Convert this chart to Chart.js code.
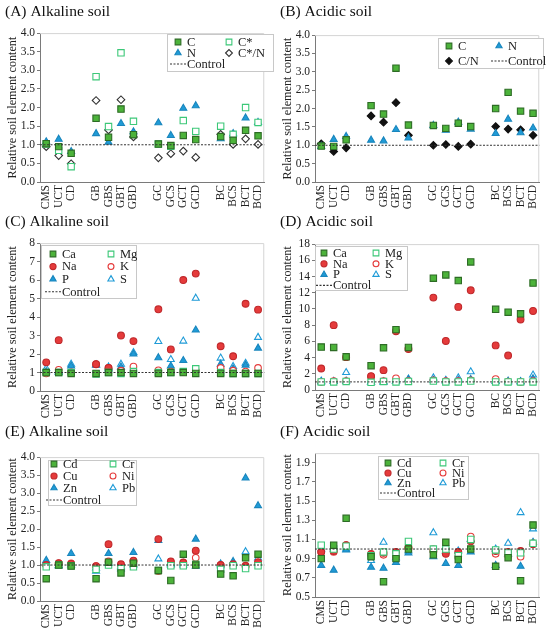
<!DOCTYPE html>
<html>
<head>
<meta charset="utf-8">
<script src="https://cdn.jsdelivr.net/npm/chart.js@4.4.0/dist/chart.umd.min.js"></script>
<style>
  body { margin: 0; background: #fff; }
  #grid { display: grid; grid-template-columns: 275px 275px; grid-template-rows: 210px 210px 210px; width: 550px; height: 630px; }
  .cell { position: relative; width: 275px; height: 210px; }
</style>
</head>
<body>
<div id="grid">
  <div class="cell"><canvas id="chartA"></canvas></div>
  <div class="cell"><canvas id="chartB"></canvas></div>
  <div class="cell"><canvas id="chartC"></canvas></div>
  <div class="cell"><canvas id="chartD"></canvas></div>
  <div class="cell"><canvas id="chartE"></canvas></div>
  <div class="cell"><canvas id="chartF"></canvas></div>
</div>
<script>
  const treatments = ['CMS', 'UCT', 'CD', 'GB', 'GBS', 'GBT', 'GBD', 'GC', 'GCS', 'GCT', 'GCD', 'BC', 'BCS', 'BCT', 'BCD'];
  const groupSizes = [3, 4, 4, 4];
  const controlValue = 1;

  // (A) Alkaline soil - C, N
  const aC   = [1.03, 0.95, 0.77, 1.71, 1.20, 1.96, 1.27, 1.02, 0.98, 1.25, 1.14, 1.22, 1.12, 1.39, 1.24];
  const aCs  = [1.02, 0.85, 0.41, 2.83, 1.49, 3.47, 1.63, 1.02, 0.96, 1.65, 1.36, 1.50, 1.28, 2.00, 1.60];
  const aN   = [1.08, 1.15, 0.82, 1.30, 1.07, 1.57, 1.35, 1.59, 1.25, 1.98, 2.05, 1.16, 1.30, 1.72, 1.60];
  const aCsN = [0.95, 0.71, 0.49, 2.19, 1.40, 2.21, 1.21, 0.65, 0.76, 0.83, 0.66, 1.28, 1.01, 1.16, 1.01];

  // (B) Acidic soil - C, N
  const bC  = [0.98, 0.97, 1.15, 2.08, 1.85, 3.10, 1.55, 1.54, 1.46, 1.60, 1.51, 2.00, 2.44, 1.93, 1.87];
  const bN  = [0.97, 1.16, 1.24, 1.14, 1.12, 1.43, 1.20, 1.54, 1.41, 1.63, 1.44, 1.32, 1.71, 1.34, 1.47];
  const bCN = [1.04, 0.83, 0.93, 1.80, 1.63, 2.16, 1.27, 1.00, 1.02, 0.97, 1.03, 1.51, 1.44, 1.42, 1.27];

  // (C) Alkaline soil - macro elements
  const cCa = [1.00, 1.00, 0.95, 0.95, 1.00, 1.00, 0.95, 0.95, 1.00, 1.00, 0.95, 0.95, 0.95, 0.95, 0.95];
  const cMg = [1.00, 1.00, 1.00, 0.92, 1.00, 0.95, 1.05, 1.00, 1.00, 1.05, 1.20, 1.00, 0.95, 0.95, 0.95];
  const cNa = [1.55, 2.75, 1.00, 1.45, 1.25, 3.00, 2.70, 4.42, 2.25, 6.00, 6.35, 2.42, 1.88, 4.72, 4.40];
  const cK  = [0.95, 1.15, 0.98, 1.45, 1.25, 1.10, 1.32, 1.12, 1.05, 1.02, 1.10, 1.25, 1.10, 1.05, 1.25];
  const cP  = [1.05, 1.00, 1.35, 1.40, 1.20, 1.30, 2.00, 1.80, 1.35, 1.65, 3.30, 1.45, 1.20, 1.40, 2.32];
  const cS  = [1.22, 1.05, 1.45, 1.42, 1.30, 1.45, 2.08, 2.68, 1.70, 2.70, 5.02, 1.78, 1.33, 1.50, 2.90];

  // (D) Acidic soil - macro elements
  const dCa = [5.30, 5.25, 4.10, 3.00, 5.20, 7.45, 5.25, 13.80, 14.20, 13.50, 15.80, 9.95, 9.60, 9.40, 13.20];
  const dMg = [1.00, 1.00, 1.05, 0.95, 1.05, 1.00, 1.05, 1.10, 1.00, 1.00, 1.10, 1.00, 1.00, 1.00, 1.00];
  const dNa = [2.65, 8.00, 4.05, 1.70, 2.45, 7.25, 5.05, 11.40, 6.05, 10.25, 12.30, 5.50, 4.25, 8.70, 9.75];
  const dK  = [1.00, 1.10, 1.10, 1.65, 1.10, 1.45, 1.10, 1.20, 1.10, 1.10, 1.20, 1.35, 1.05, 1.00, 1.10];
  const dP  = [1.00, 1.05, 1.10, 1.00, 1.00, 1.10, 1.30, 1.20, 1.10, 1.20, 1.30, 1.10, 1.00, 1.00, 1.40];
  const dS  = [1.10, 1.05, 2.15, 1.00, 1.00, 1.10, 1.35, 1.50, 1.20, 1.50, 2.25, 1.10, 1.10, 1.05, 1.85];

  // (E) Alkaline soil - heavy metals
  const eCd = [0.62, 1.00, 0.97, 0.62, 1.08, 0.78, 1.05, 0.85, 0.57, 1.30, 1.00, 0.75, 0.70, 1.20, 1.30];
  const eCr = [0.95, 1.00, 0.98, 0.88, 1.00, 0.90, 0.95, 0.85, 0.98, 0.98, 1.02, 0.88, 0.98, 0.90, 0.98];
  const eCu = [1.00, 1.05, 1.03, 0.97, 1.58, 1.02, 1.12, 1.72, 1.10, 1.07, 1.40, 1.00, 1.02, 0.98, 1.08];
  const eNi = [1.00, 1.05, 1.05, 0.97, 1.10, 1.00, 1.10, 0.83, 1.08, 1.05, 1.20, 1.00, 1.00, 0.95, 1.05];
  const eZn = [1.13, 0.98, 1.32, 0.92, 1.32, 0.95, 1.35, 1.68, 1.00, 1.05, 1.72, 1.03, 1.10, 3.42, 2.65];
  const ePb = [1.05, 0.98, 1.00, 0.83, 1.05, 0.90, 1.00, 1.17, 1.02, 1.00, 0.97, 0.98, 1.05, 1.37, 1.20];

  // (F) Acidic soil - heavy metals
  const fCd = [0.90, 1.04, 1.32, 0.92, 0.66, 0.90, 1.00, 0.94, 1.07, 0.89, 1.00, 0.82, 0.91, 0.67, 1.25];
  const fCr = [1.04, 1.00, 1.03, 0.93, 0.97, 0.95, 1.08, 1.00, 1.00, 0.93, 1.10, 0.99, 0.96, 0.96, 1.06];
  const fCu = [0.97, 0.98, 1.04, 0.95, 0.96, 0.97, 1.01, 0.98, 0.95, 0.97, 1.08, 0.98, 0.97, 0.98, 1.05];
  const fNi = [0.97, 0.97, 1.04, 0.94, 0.94, 0.92, 1.01, 1.00, 1.00, 0.92, 1.13, 0.95, 0.93, 0.92, 1.06];
  const fZn = [0.83, 0.78, 0.99, 0.81, 0.80, 0.86, 0.96, 0.92, 0.85, 0.83, 0.97, 0.83, 0.95, 0.82, 1.07];
  const fPb = [1.00, 1.00, 1.00, 0.88, 1.07, 0.91, 0.98, 1.17, 0.98, 0.98, 1.10, 1.00, 1.06, 1.38, 1.21];

  const fTicks = [0.5, 0.7, 0.9, 1.1, 1.3, 1.5, 1.7, 1.9];

  const FONT = "'Liberation Serif', 'Times New Roman', serif";

  // put an empty slot between the treatment groups
  function withGaps(values) {
    let out = [];
    let i = 0;
    groupSizes.forEach((n, g) => {
      if (g > 0) out.push(null);
      for (let k = 0; k < n; k++) out.push(values[i++]);
    });
    return out;
  }
  const labels = withGaps(treatments).map(v => v === null ? '' : v);

  const marks = {
    greenFill: { style: 'rect', fill: '#4cb33a', line: '#2d6b25', r: 4.5 },
    greenOpen: { style: 'rect', fill: '#ffffff', line: '#3cc878', r: 4.5 },
    redFill:   { style: 'circle', fill: '#e53b3b', line: '#c0282b', r: 3.4 },
    redOpen:   { style: 'circle', fill: '#ffffff', line: '#e53b3b', r: 3.3 },
    blueFill:  { style: 'triangle', fill: '#1f9bd7', line: '#1a86bd', r: 4 },
    blueOpen:  { style: 'triangle', fill: '#ffffff', line: '#1f9bd7', r: 4 },
    darkOpen:  { style: 'rectRot', fill: '#ffffff', line: '#333333', r: 3.8 },
    darkFill:  { style: 'rectRot', fill: '#111111', line: '#111111', r: 3.8 }
  };

  function series(label, values, m) {
    return {
      label: label,
      data: withGaps(values),
      showLine: false,
      pointStyle: m.style,
      pointRadius: m.r,
      pointHoverRadius: m.r,
      pointBackgroundColor: m.fill,
      pointBorderColor: m.line,
      pointBorderWidth: 1.1
    };
  }

  // light frame on top and right of the plot
  const frame = {
    id: 'frame',
    beforeDatasetsDraw(chart) {
      const a = chart.chartArea;
      const ctx = chart.ctx;
      ctx.save();
      ctx.strokeStyle = '#d4d4d4';
      ctx.lineWidth = 1;
      ctx.beginPath();
      ctx.moveTo(a.left, a.top + 0.5);
      ctx.lineTo(a.right - 0.5, a.top + 0.5);
      ctx.lineTo(a.right - 0.5, a.bottom);
      ctx.stroke();
      ctx.restore();
    }
  };

  // dashed control line at 1
  const controlLine = {
    id: 'controlLine',
    afterDatasetsDraw(chart) {
      const a = chart.chartArea;
      const y = chart.scales.y.getPixelForValue(controlValue);
      const ctx = chart.ctx;
      ctx.save();
      ctx.strokeStyle = '#333';
      ctx.lineWidth = 1;
      ctx.setLineDash([2, 1.5]);
      ctx.beginPath();
      ctx.moveTo(a.left, y);
      ctx.lineTo(a.right, y);
      ctx.stroke();
      ctx.restore();
    }
  };

  // boxed two-column legend inside the plot
  const boxLegend = {
    id: 'boxLegend',
    afterDraw(chart, args, opts) {
      if (!opts || opts.w === undefined) return;
      const ctx = chart.ctx;
      ctx.save();
      ctx.fillStyle = '#fff';
      ctx.fillRect(opts.x, opts.y, opts.w, opts.h);
      ctx.strokeStyle = '#c8c8c8';
      ctx.lineWidth = 1;
      ctx.strokeRect(opts.x + 0.5, opts.y + 0.5, opts.w, opts.h);
      let items = chart.data.datasets.map(ds => ({ label: ds.label, ds: ds }));
      items.push({ label: 'Control', control: true });
      ctx.font = '12.5px ' + FONT;
      ctx.textBaseline = 'middle';
      items.forEach((it, i) => {
        const col = i % 2;
        const row = Math.floor(i / 2);
        const tx = opts.x + opts.cols[col];
        const ty = opts.y + opts.row0 + row * opts.rowH;
        if (it.control) {
          ctx.strokeStyle = '#333';
          ctx.setLineDash([2, 1.5]);
          ctx.beginPath();
          ctx.moveTo(tx - 17, ty);
          ctx.lineTo(tx, ty);
          ctx.stroke();
          ctx.setLineDash([]);
        } else {
          ctx.fillStyle = it.ds.pointBackgroundColor;
          ctx.strokeStyle = it.ds.pointBorderColor;
          ctx.lineWidth = it.ds.pointBorderWidth;
          Chart.helpers.drawPoint(ctx, {
            pointStyle: it.ds.pointStyle,
            radius: it.ds.pointRadius * 0.9,
            rotation: 0,
            borderWidth: it.ds.pointBorderWidth
          }, tx - 9, ty);
        }
        ctx.fillStyle = '#222';
        ctx.fillText(it.label, tx, ty + 0.5);
      });
      ctx.restore();
    }
  };

  function makeChart(id, cfg) {
    const yTicks = {
      color: '#222',
      font: { family: FONT, size: 11.5 },
      padding: 2,
      autoSkip: false,
      callback: v => cfg.decimals ? Number(v).toFixed(1) : v
    };
    if (cfg.stepSize) yTicks.stepSize = cfg.stepSize;

    new Chart(document.getElementById(id), {
      type: 'line',
      data: { labels: labels, datasets: cfg.datasets },
      plugins: [frame, controlLine, boxLegend],
      options: {
        responsive: true,
        maintainAspectRatio: false,
        animation: false,
        events: [],
        layout: { padding: { left: 5, right: cfg.right, top: 3, bottom: 0 } },
        scales: {
          x: {
            type: 'category',
            offset: true,
            grid: { display: false, drawTicks: false },
            border: { display: true, color: '#7a7a7a' },
            ticks: {
              color: '#222',
              font: { family: FONT, size: 11.5 },
              autoSkip: false,
              maxRotation: 90,
              minRotation: 90,
              padding: 3
            },
            afterFit: s => { s.height = cfg.xHeight; }
          },
          y: {
            min: cfg.min,
            max: cfg.max,
            grid: { drawOnChartArea: false, drawTicks: true, tickLength: 3, color: '#7a7a7a' },
            border: { display: true, color: '#7a7a7a' },
            ticks: yTicks,
            afterBuildTicks: cfg.tickValues ? (s => { s.ticks = cfg.tickValues.map(v => ({ value: v })); }) : undefined,
            title: {
              display: true,
              text: 'Relative soil element content',
              color: '#222',
              font: { family: FONT, size: 12.2 },
              padding: { top: 0, bottom: 1 }
            },
            afterFit: s => { s.width = 35; }
          }
        },
        plugins: {
          legend: { display: false },
          tooltip: { enabled: false },
          title: {
            display: true,
            text: cfg.title,
            align: 'start',
            color: '#111',
            font: { family: FONT, size: 15.5, weight: 'normal' },
            padding: { top: 0, bottom: cfg.titleGap }
          },
          boxLegend: cfg.legend
        }
      }
    });
  }

  makeChart('chartA', {
    title: '(A) Alkaline soil', min: 0, max: 4, stepSize: 0.5, decimals: true,
    right: 2, titleGap: 11.5, xHeight: 28,
    legend: { x: 167, y: 34, w: 106, h: 37, cols: [20, 71], row0: 8, rowH: 11 },
    datasets: [
      series('C', aC, marks.greenFill),
      series('C*', aCs, marks.greenOpen),
      series('N', aN, marks.blueFill),
      series('C*/N', aCsN, marks.darkOpen)
    ]
  });

  makeChart('chartB', {
    title: '(B) Acidic soil', min: 0, max: 4, stepSize: 0.5, decimals: true,
    right: 6, titleGap: 13.5, xHeight: 28,
    legend: { x: 163, y: 38, w: 105, h: 30, cols: [20, 70], row0: 8, rowH: 15 },
    datasets: [
      series('C', bC, marks.greenFill),
      series('N', bN, marks.blueFill),
      series('C/N', bCN, marks.darkFill)
    ]
  });

  makeChart('chartC', {
    title: '(C) Alkaline soil', min: 0, max: 8, stepSize: 1, decimals: false,
    right: 2, titleGap: 11.5, xHeight: 29,
    legend: { x: 41, y: 35, w: 95, h: 53, cols: [21, 79], row0: 9, rowH: 12.6 },
    datasets: [
      series('Ca', cCa, marks.greenFill),
      series('Mg', cMg, marks.greenOpen),
      series('Na', cNa, marks.redFill),
      series('K', cK, marks.redOpen),
      series('P', cP, marks.blueFill),
      series('S', cS, marks.blueOpen)
    ]
  });

  makeChart('chartD', {
    title: '(D) Acidic soil', min: 0, max: 18, stepSize: 2, decimals: false,
    right: 6, titleGap: 12.5, xHeight: 30,
    legend: { x: 40, y: 36, w: 92, h: 44, cols: [18, 70], row0: 7, rowH: 10.8 },
    datasets: [
      series('Ca', dCa, marks.greenFill),
      series('Mg', dMg, marks.greenOpen),
      series('Na', dNa, marks.redFill),
      series('K', dK, marks.redOpen),
      series('P', dP, marks.blueFill),
      series('S', dS, marks.blueOpen)
    ]
  });

  makeChart('chartE', {
    title: '(E) Alkaline soil', min: 0, max: 4, stepSize: 0.5, decimals: true,
    right: 2, titleGap: 15.5, xHeight: 29,
    legend: { x: 48, y: 40, w: 88, h: 45, cols: [15, 74], row0: 4, rowH: 12 },
    datasets: [
      series('Cd', eCd, marks.greenFill),
      series('Cr', eCr, marks.greenOpen),
      series('Cu', eCu, marks.redFill),
      series('Ni', eNi, marks.redOpen),
      series('Zn', eZn, marks.blueFill),
      series('Pb', ePb, marks.blueOpen)
    ]
  });

  makeChart('chartF', {
    title: '(F) Acidic soil', min: 0.5, max: 2.0, decimals: true, tickValues: fTicks,
    right: 6, titleGap: 11.5, xHeight: 33,
    legend: { x: 103, y: 36, w: 90, h: 43, cols: [19, 74], row0: 7, rowH: 10 },
    datasets: [
      series('Cd', fCd, marks.greenFill),
      series('Cr', fCr, marks.greenOpen),
      series('Cu', fCu, marks.redFill),
      series('Ni', fNi, marks.redOpen),
      series('Zn', fZn, marks.blueFill),
      series('Pb', fPb, marks.blueOpen)
    ]
  });
</script>
</body>
</html>
